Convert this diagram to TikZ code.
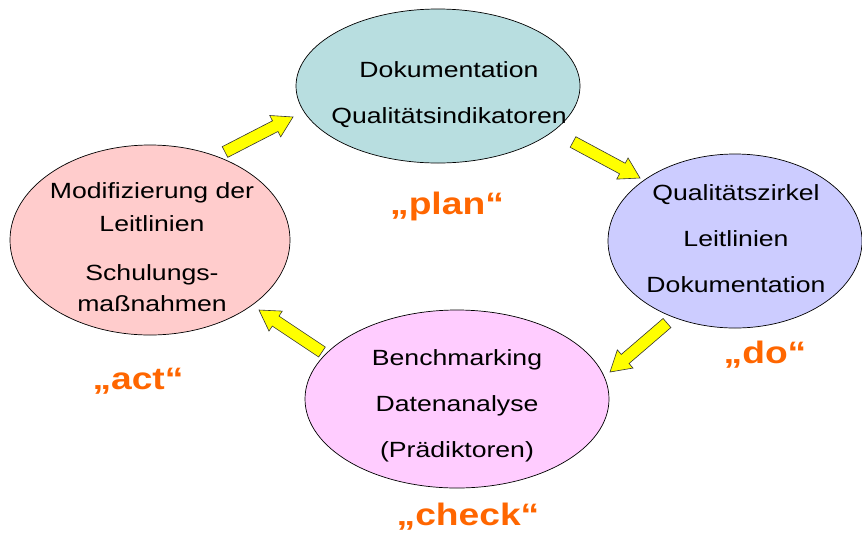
\documentclass[tikz,border=0pt]{standalone}
\usepackage{fontspec}
\usepackage{graphicx}
\setmainfont{Liberation Sans}
\usetikzlibrary{shapes.geometric,calc}
\definecolor{planfill}{RGB}{184,222,224}
\definecolor{dofill}{RGB}{204,204,255}
\definecolor{checkfill}{RGB}{255,204,255}
\definecolor{actfill}{RGB}{255,204,204}
\definecolor{phaseorange}{RGB}{255,102,0}
\definecolor{arrowyellow}{RGB}{255,255,0}
\newcommand\sx[1]{\scalebox{1.21}[1]{#1}}
\newcommand\sxl[1]{\scalebox{1.2}[1]{#1}}
\newcommand\blockarrow[3]{%
  \coordinate (#1-h) at ($(#3)!20pt!(#2)$);
  \draw[barrow] ($(#2)!6pt!90:(#3)$) -- ($(#1-h)!6pt!90:(#3)$) -- ($(#1-h)!12pt!90:(#3)$) -- (#3)
    -- ($(#1-h)!12pt!-90:(#3)$) -- ($(#1-h)!6pt!-90:(#3)$) -- ($(#2)!6pt!-90:(#3)$) -- cycle;}
\tikzset{
  phase/.style={ellipse, draw=black, line width=0.7pt, inner sep=0pt},
  body/.style={align=center, font=\fontsize{22}{46}\selectfont, inner sep=0pt},
  label/.style={text=phaseorange, font=\fontsize{31}{32}\selectfont\bfseries, inner sep=0pt},
  barrow/.style={fill=arrowyellow, draw=black!80, line width=0.6pt, line join=miter}
}
\begin{document}
\begin{tikzpicture}[x=1pt,y=-1pt]
\useasboundingbox (0,0) rectangle (862,539);
% ellipses
\node[phase, fill=planfill, minimum width=284pt, minimum height=154pt] (plan) at (438,86) {};
\node[phase, fill=dofill, minimum width=254pt, minimum height=174pt] (do) at (735,241) {};
\node[phase, fill=checkfill, minimum width=304pt, minimum height=178pt] (check) at (457,399) {};
\node[phase, fill=actfill, minimum width=280pt, minimum height=190pt] (act) at (150,240) {};
% texts
\node[body] (plantext) at (449,95) {\sx{Dokumentation}\\ \sx{Qualitätsindikatoren}};
\node[body] (dotext) at (736,239) {\sx{Qualitätszirkel}\\ \sx{Leitlinien}\\ \sx{Dokumentation}};
\node[body] (checktext) at (457,406) {\sx{Benchmarking}\\ \sx{Datenanalyse}\\ \sx{(Prädiktoren)}};
\node[body, font=\fontsize{22}{49}\selectfont] (acttext) at (152,247) {\sx{Modifizierung der}\\[-16pt] \sx{Leitlinien}\\ \sx{Schulungs-}\\[-18pt] \sx{maßnahmen}};
% phase labels
\node[label] (planlabel) at (447,206) {\sxl{„plan“}};
\node[label] (dolabel) at (765,355) {\sxl{„do“}};
\node[label] (checklabel) at (468,517) {\sxl{„check“}};
\node[label] (actlabel) at (138,381) {\sxl{„act“}};
% arrows
\coordinate (a1t) at (225,152); \coordinate (a1h) at (293,117);
\coordinate (a2t) at (573,142); \coordinate (a2h) at (640,178);
\coordinate (a3t) at (667,323); \coordinate (a3h) at (610,372);
\coordinate (a4t) at (322,352); \coordinate (a4h) at (259,310);
\blockarrow{ar1}{a1t}{a1h}
\blockarrow{ar2}{a2t}{a2h}
\blockarrow{ar3}{a3t}{a3h}
\blockarrow{ar4}{a4t}{a4h}
\end{tikzpicture}
\end{document}
